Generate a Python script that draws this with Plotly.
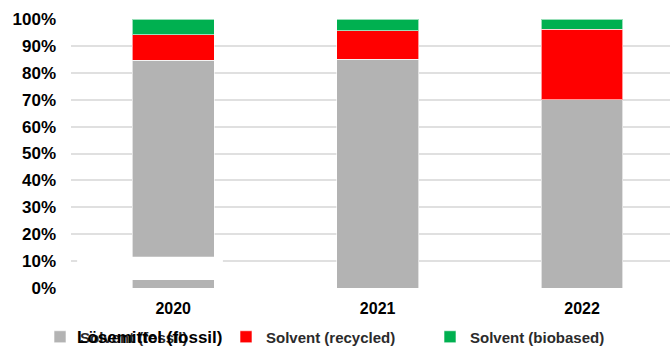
import plotly.graph_objects as go

years = ["2020", "2021", "2022"]
fossil = [0.846, 0.851, 0.700]
recycled = [0.096, 0.105, 0.261]
biobased = [0.058, 0.044, 0.039]
tick_vals = [i / 10 for i in range(11)]
tick_text = [f"{i*10}%" for i in range(11)]

W, H = 670, 346
L, T, B = 71, 19, 58
plot_w = W - L
plot_h = H - T - B

def px_x(p):
    return (p - L) / plot_w

def px_y(p):
    return (H - B - p) / plot_h

fig = go.Figure()
common = dict(width=0.4, marker_line=dict(color="rgba(255,255,255,0.6)", width=1))
fig.add_bar(x=years, y=fossil, name="Solvent (fossil)", marker_color="#b3b3b3", legend="legend", **common)
fig.add_bar(x=years, y=recycled, name="Solvent (recycled)", marker_color="#ff0000", legend="legend2", **common)
fig.add_bar(x=years, y=biobased, name="Solvent (biobased)", marker_color="#00b050", legend="legend3", **common)

# white artefact box covering part of 2020 bar
fig.add_shape(type="rect", xref="x", yref="y", x0=-0.47, x1=0.243, y0=0.03, y1=0.116,
              fillcolor="white", line_width=0, layer="above")

lfont = dict(family="Liberation Sans, Arial", size=15, color="#2b2b2b", weight=700)
leg_common = dict(orientation="h", yanchor="middle", y=px_y(337), font=lfont,
                  bgcolor="rgba(0,0,0,0)", itemwidth=30, tracegroupgap=0)

fig.add_annotation(text="<b>Lösemittel (fossil)</b>", xref="paper", yref="paper",
                   x=px_x(75), y=px_y(337), xanchor="left", yanchor="middle",
                   showarrow=False,
                   font=dict(family="Liberation Sans, Arial", size=17, color="#000000", weight=700))

fig.update_layout(
    width=W, height=H,
    margin=dict(l=L, r=0, t=T, b=B, autoexpand=False),
    barmode="stack",
    plot_bgcolor="white", paper_bgcolor="white",
    legend=dict(x=px_x(40), **leg_common),
    legend2=dict(x=px_x(226), **leg_common),
    legend3=dict(x=px_x(430), **leg_common),
    xaxis=dict(type="category", range=[-0.5, 2.43], showgrid=False, showline=False,
               ticklabelstandoff=9,
               tickfont=dict(family="Liberation Sans, Arial", size=16, color="#000000", weight=700)),
    yaxis=dict(range=[0, 1.0], tickvals=tick_vals, ticktext=tick_text,
               gridcolor="#e0e0e0", gridwidth=1.5, zeroline=False, showline=False,
               ticklabelstandoff=14,
               tickfont=dict(family="Liberation Sans, Arial", size=17, color="#000000", weight=700)),
    showlegend=True,
)

fig.write_html("out.html")
